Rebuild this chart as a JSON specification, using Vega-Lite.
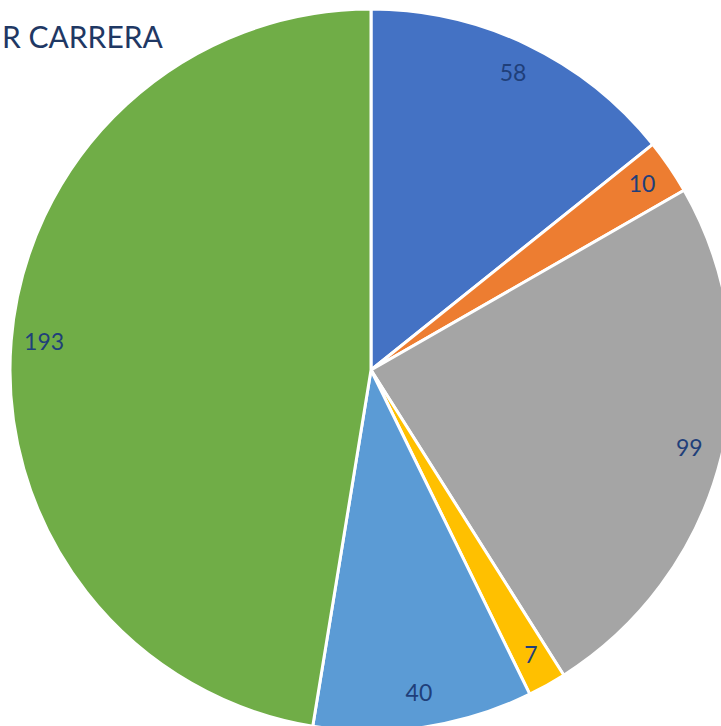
{
  "$schema": "https://vega.github.io/schema/vega-lite/v6.json",
  "width": 742,
  "height": 740,
  "padding": 0,
  "autosize": "none",
  "background": "white",
  "title": {
    "text": "R CARRERA",
    "anchor": "start",
    "frame": "group",
    "orient": "top",
    "offset": -54,
    "dx": 2,
    "font": "Lato",
    "fontSize": 30,
    "fontWeight": "normal",
    "color": "#1F3864"
  },
  "data": {
    "values": [
      {"k": "A", "v": 58, "o": 1},
      {"k": "B", "v": 10, "o": 2},
      {"k": "C", "v": 99, "o": 3},
      {"k": "D", "v": 7, "o": 4},
      {"k": "E", "v": 40, "o": 5},
      {"k": "F", "v": 193, "o": 6}
    ]
  },
  "encoding": {
    "theta": {"field": "v", "type": "quantitative", "stack": true},
    "order": {"field": "o", "type": "quantitative"},
    "color": {
      "field": "k",
      "type": "nominal",
      "legend": null,
      "scale": {
        "domain": ["A", "B", "C", "D", "E", "F"],
        "range": ["#4472C4", "#ED7D31", "#A5A5A5", "#FFC000", "#5B9BD5", "#70AD47"]
      }
    }
  },
  "layer": [
    {
      "mark": {"type": "arc", "outerRadius": 361, "stroke": "white", "strokeWidth": 3}
    },
    {
      "mark": {"type": "text", "radius": 328, "font": "Lato", "fontSize": 23, "fill": "#1F3F7A"},
      "encoding": {
        "text": {"field": "v", "type": "quantitative"},
        "color": {"value": "#1F3F7A"}
      }
    }
  ]
}
